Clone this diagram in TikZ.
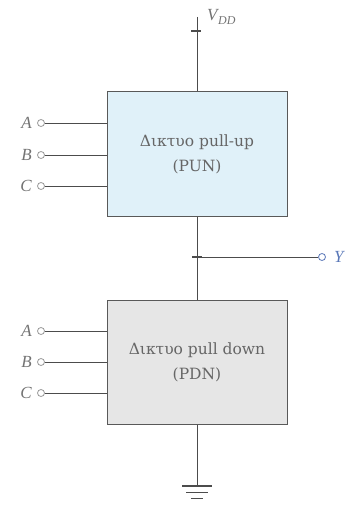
\documentclass[tikz,border=0pt]{standalone}
\usepackage{fontspec}
\setmainfont{Liberation Serif}
\newfontfamily\boxfont{DejaVu Serif}
\begin{document}
\begin{tikzpicture}[x=1pt,y=-1pt,
  wire/.style={draw=black!70,line width=0.9pt},
  netbox/.style={draw=black!65,line width=1pt,minimum width=180pt,minimum height=124pt,inner sep=0pt,align=center,text=black!60,font=\boxfont\fontsize{15.5}{25}\selectfont},
  term/.style={circle,draw=black!40,line width=0.8pt,minimum size=7pt,inner sep=0pt},
  lbl/.style={text=black!55,font=\fontsize{17}{19}\selectfont\itshape,inner sep=0pt}]
\useasboundingbox (0,0) rectangle (346,505);
\definecolor{punfill}{HTML}{E0F1F9}
\definecolor{pdnfill}{HTML}{E6E6E6}
\definecolor{ycol}{HTML}{5A78B8}
% boxes
\node[netbox,fill=punfill] (pun) at (197,154) {Δικτυο pull-up\\(PUN)};
\node[netbox,fill=pdnfill] (pdn) at (197,362) {Δικτυο pull down\\(PDN)};
% VDD
\coordinate (vdd) at (197,17);
\draw[wire] (vdd) -- (pun.north);
\draw[black!70,line width=1.3pt] (191,31) -- (201,31);
\node[lbl,anchor=west] (vddl) at (207,17) {V\kern0.5pt{\fontsize{12}{14}\selectfont\raisebox{-4pt}{DD}}};
% output node
\coordinate (mid) at (197,257);
\draw[wire] (pun.south) -- (pdn.north);
\draw[black!70,line width=1.3pt] (192,257) -- (202,257);
\node[term,draw=ycol] (yt) at (322,257) {};
\draw[wire] (mid) -- (yt.west);
\node[lbl,text=ycol,anchor=west] (yl) at (334,257) {Y};
% PUN inputs
\foreach \n/\yy/\lab in {a1/123/A,b1/155/B,c1/186/C}{
  \node[term] (\n) at (41,\yy) {};
  \node[lbl,anchor=east] at (32,\yy) {\lab};
  \draw[wire,line width=0.7pt] (\n.east) -- (pun.west |- \n);
}
% PDN inputs
\foreach \n/\yy/\lab in {a2/331/A,b2/362/B,c2/393/C}{
  \node[term] (\n) at (41,\yy) {};
  \node[lbl,anchor=east] at (32,\yy) {\lab};
  \draw[wire,line width=0.7pt] (\n.east) -- (pdn.west |- \n);
}
% ground
\coordinate (gnd) at (197,486);
\draw[wire] (pdn.south) -- (gnd);
\draw[black!70,line width=1.5pt] (182,486) -- (212,486);
\draw[black!70,line width=1.5pt] (186,492.5) -- (208,492.5);
\draw[black!70,line width=1.5pt] (191,498.5) -- (203,498.5);
\end{tikzpicture}
\end{document}
